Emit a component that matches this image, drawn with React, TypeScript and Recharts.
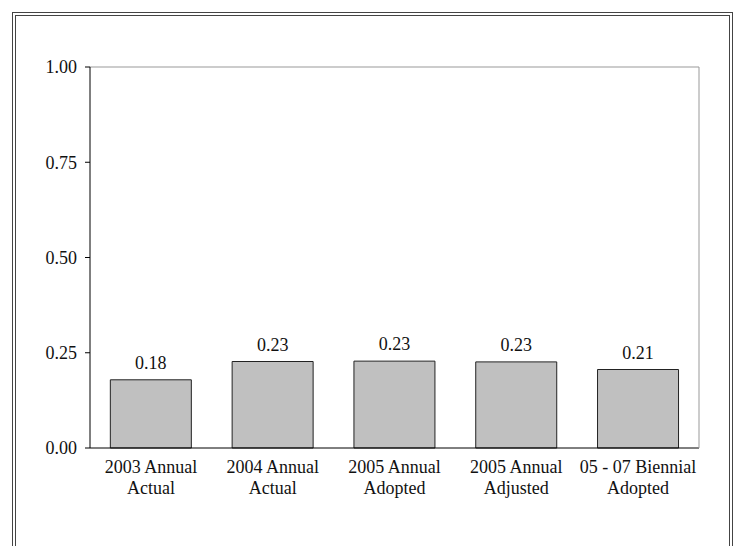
import React from "react";
import {
  BarChart,
  Bar,
  XAxis,
  YAxis,
  LabelList,
  ReferenceLine,
} from "recharts";

const categories = [
  "2003 Annual|Actual",
  "2004 Annual|Actual",
  "2005 Annual|Adopted",
  "2005 Annual|Adjusted",
  "05 - 07 Biennial|Adopted",
];
const values = [0.179, 0.227, 0.228, 0.226, 0.206];
const yTicks = [0, 0.25, 0.5, 0.75, 1];
const boundaryTicks = [0, 1, 2, 3, 4, 5];

const data = categories.map((c, i) => ({ name: c, value: values[i], idx: i + 0.5 }));

const FONT = "'Liberation Serif', 'Times New Roman', serif";

const CatTick = (props: any) => {
  const { x, y, payload } = props;
  const lines = String(payload.value).split("|");
  return (
    <text x={x} y={y} textAnchor="middle" fontFamily={FONT} fontSize={18} fill="#111">
      {lines.map((l, i) => (
        <tspan key={i} x={x} dy={i === 0 ? 24 : 21}>
          {l}
        </tspan>
      ))}
    </text>
  );
};

export default function App() {
  return (
    <div
      style={{
        position: "absolute",
        left: 0,
        top: 0,
        width: 735,
        height: 546,
        overflow: "hidden",
        background: "#fff",
      }}
    >
      <div
        style={{
          position: "absolute",
          left: 12,
          top: 12,
          width: 713,
          height: 600,
          border: "4px double #444",
        }}
      />
      <div style={{ position: "absolute", left: 0, top: 0 }}>
        <BarChart
          width={735}
          height={546}
          data={data}
          margin={{ top: 67, right: 35, bottom: 37, left: 0 }}
          barCategoryGap="16.7%"
        >
          <XAxis
            xAxisId="bnd"
            type="number"
            dataKey="idx"
            domain={[0, 5]}
            ticks={boundaryTicks}
            allowDataOverflow
            height={1}
            tick={false}
            tickSize={5}
            axisLine={{ stroke: "#000" }}
            tickLine={{ stroke: "#000" }}
          />
          <XAxis
            xAxisId="cat"
            dataKey="name"
            height={60}
            axisLine={false}
            tickLine={false}
            interval={0}
            tick={<CatTick />}
            tickSize={0}
            tickMargin={0}
          />
          <YAxis
            domain={[0, 1]}
            ticks={yTicks}
            width={90}
            tickFormatter={(v: number) => v.toFixed(2)}
            tickSize={5}
            tickMargin={8}
            axisLine={{ stroke: "#000" }}
            tickLine={{ stroke: "#000" }}
            tick={{ fontFamily: FONT, fontSize: 18, fill: "#111" }}
          />
          <YAxis
            yAxisId="r"
            orientation="right"
            domain={[0, 1]}
            width={1}
            tick={false}
            tickLine={false}
            axisLine={{ stroke: "#999" }}
          />
          <ReferenceLine y={1} xAxisId="cat" stroke="#999" />
          <Bar
            xAxisId="cat"
            dataKey="value"
            fill="#c0c0c0"
            stroke="#222"
            strokeWidth={1}
            isAnimationActive={false}
          >
            <LabelList
              dataKey="value"
              position="top"
              offset={11}
              formatter={(v: number) => v.toFixed(2)}
              style={{ fontFamily: FONT, fontSize: 18, fill: "#111" }}
            />
          </Bar>
        </BarChart>
      </div>
    </div>
  );
}
